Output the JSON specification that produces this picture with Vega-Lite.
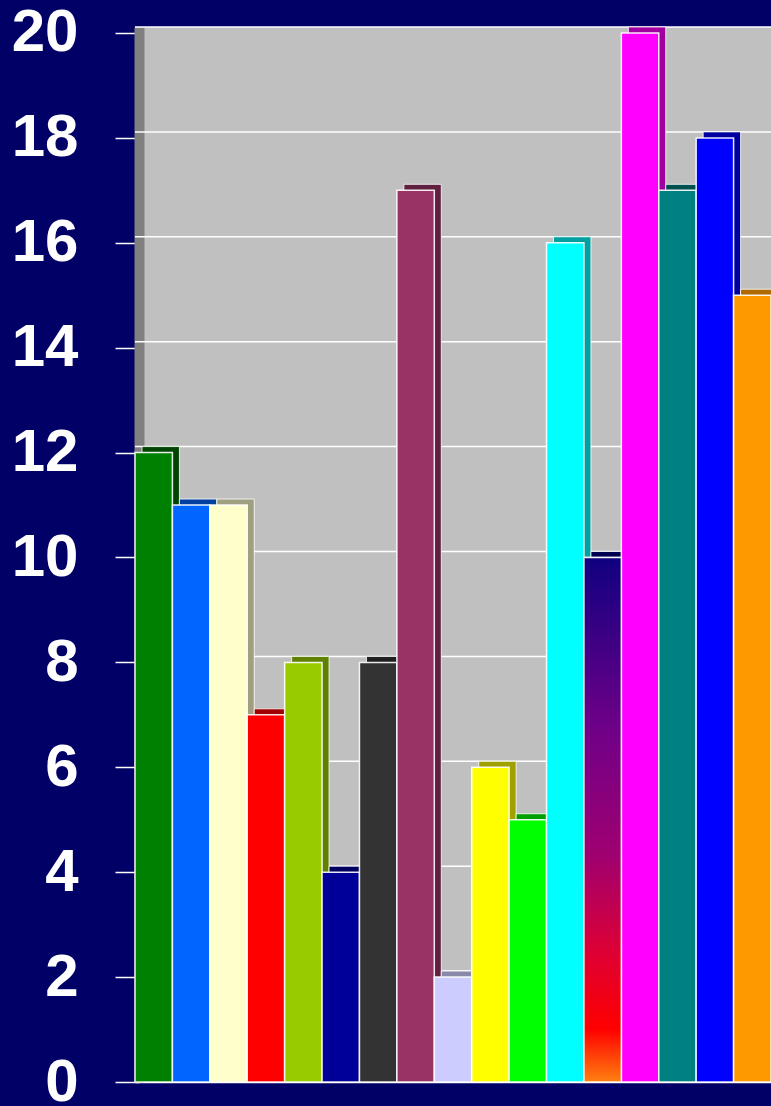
{
  "$schema": "https://vega.github.io/schema/vega-lite/v6.json",
  "width": 636,
  "height": 1055,
  "autosize": {"type": "none"},
  "padding": {"left": 135, "top": 27, "right": 0, "bottom": 24},
  "background": "#000066",
  "config": {"view": {"fill": "#C0C0C0", "stroke": null}, "font": "Liberation Sans"},
  "datasets": {
    "bars": [
      {"cat": "A", "value": 12},
      {"cat": "B", "value": 11},
      {"cat": "C", "value": 11},
      {"cat": "D", "value": 7},
      {"cat": "E", "value": 8},
      {"cat": "F", "value": 4},
      {"cat": "G", "value": 8},
      {"cat": "H", "value": 17},
      {"cat": "I", "value": 2},
      {"cat": "J", "value": 6},
      {"cat": "K", "value": 5},
      {"cat": "L", "value": 16},
      {"cat": "M", "value": 10},
      {"cat": "N", "value": 20},
      {"cat": "O", "value": 17},
      {"cat": "P", "value": 18},
      {"cat": "Q", "value": 15}
    ],
    "grid": [
      {"value": 2}, {"value": 4}, {"value": 6}, {"value": 8}, {"value": 10},
      {"value": 12}, {"value": 14}, {"value": 16}, {"value": 18}, {"value": 20}
    ]
  },
  "encoding": {
    "y": {
      "field": "value",
      "type": "quantitative",
      "scale": {"domain": [0, 20.114], "nice": false, "zero": true},
      "axis": {
        "title": null,
        "values": [0, 2, 4, 6, 8, 10, 12, 14, 16, 18, 20],
        "grid": false,
        "domain": true,
        "domainColor": "#808080",
        "domainWidth": 10,
        "offset": -4,
        "tickColor": "#FFFFFF",
        "tickSize": 24,
        "tickWidth": 1.5,
        "labelColor": "#FFFFFF",
        "labelFont": "Liberation Sans",
        "labelFontWeight": "bold",
        "labelFontSize": 60,
        "labelPadding": 37,
        "labelFlush": false,
        "labelOverlap": false,
        "zindex": 0
      }
    }
  },
  "resolve": {"scale": {"color": "independent"}},
  "layer": [
    {
      "data": {"name": "grid"},
      "mark": {"type": "rule", "color": "#FFFFFF", "strokeWidth": 1.5, "yOffset": -6}
    },
    {
      "data": {"name": "bars"},
      "mark": {"type": "bar", "xOffset": 7, "yOffset": -6, "stroke": "#FFFFFF", "strokeWidth": 1, "strokeOpacity": 0.8},
      "encoding": {
        "x": {"field": "cat", "type": "nominal", "sort": null, "scale": {"paddingInner": 0, "paddingOuter": 0},
              "axis": {"title": null, "labels": false, "ticks": false, "domainColor": "#FFFFFF", "domainWidth": 1.5}},
        "color": {
          "field": "cat", "type": "nominal", "legend": null,
          "scale": {
            "domain": ["A","B","C","D","E","F","G","H","I","J","K","L","M","N","O","P","Q"],
            "range": ["#004400","#0040a0","#a0a080","#a00000","#608000","#000060","#202020","#602040","#8888a8","#a0a000","#00a000","#00a0a0","#000050","#a000a0","#005050","#0000a0","#b06800"]
          }
        }
      }
    },
    {
      "data": {"name": "bars"},
      "mark": {"type": "bar", "stroke": "#FFFFFF", "strokeWidth": 1.5, "strokeOpacity": 0.9},
      "encoding": {
        "x": {"field": "cat", "type": "nominal", "sort": null, "scale": {"paddingInner": 0, "paddingOuter": 0},
              "axis": {"title": null, "labels": false, "ticks": false, "domainColor": "#FFFFFF", "domainWidth": 1.5}},
        "color": {
          "field": "cat", "type": "nominal", "legend": null,
          "scale": {
            "domain": ["A","B","C","D","E","F","G","H","I","J","K","L","M","N","O","P","Q"],
            "range": ["#008000","#0066FF","#FFFFCC","#FF0000","#99CC00","#000099","#333333","#993366","#CCCCFF","#FFFF00","#00FF00","#00FFFF","#140080","#FF00FF","#008080","#0000FF","#FF9900"]
          }
        }
      }
    },
    {
      "data": {"name": "bars"},
      "transform": [{"filter": "datum.cat === 'M'"}],
      "mark": {
        "type": "bar",
        "stroke": "#FFFFFF",
        "strokeWidth": 1.5,
        "strokeOpacity": 0.9,
        "fill": {
          "gradient": "linear", "x1": 0, "y1": 0, "x2": 0, "y2": 1,
          "stops": [
            {"offset": 0, "color": "#100080"},
            {"offset": 0.33, "color": "#700088"},
            {"offset": 0.57, "color": "#a00070"},
            {"offset": 0.75, "color": "#dd0035"},
            {"offset": 0.9, "color": "#ff0000"},
            {"offset": 1, "color": "#ff8010"}
          ]
        }
      },
      "encoding": {
        "x": {"field": "cat", "type": "nominal", "sort": null, "scale": {"paddingInner": 0, "paddingOuter": 0},
              "axis": {"title": null, "labels": false, "ticks": false, "domainColor": "#FFFFFF", "domainWidth": 1.5}}
      }
    }
  ]
}
